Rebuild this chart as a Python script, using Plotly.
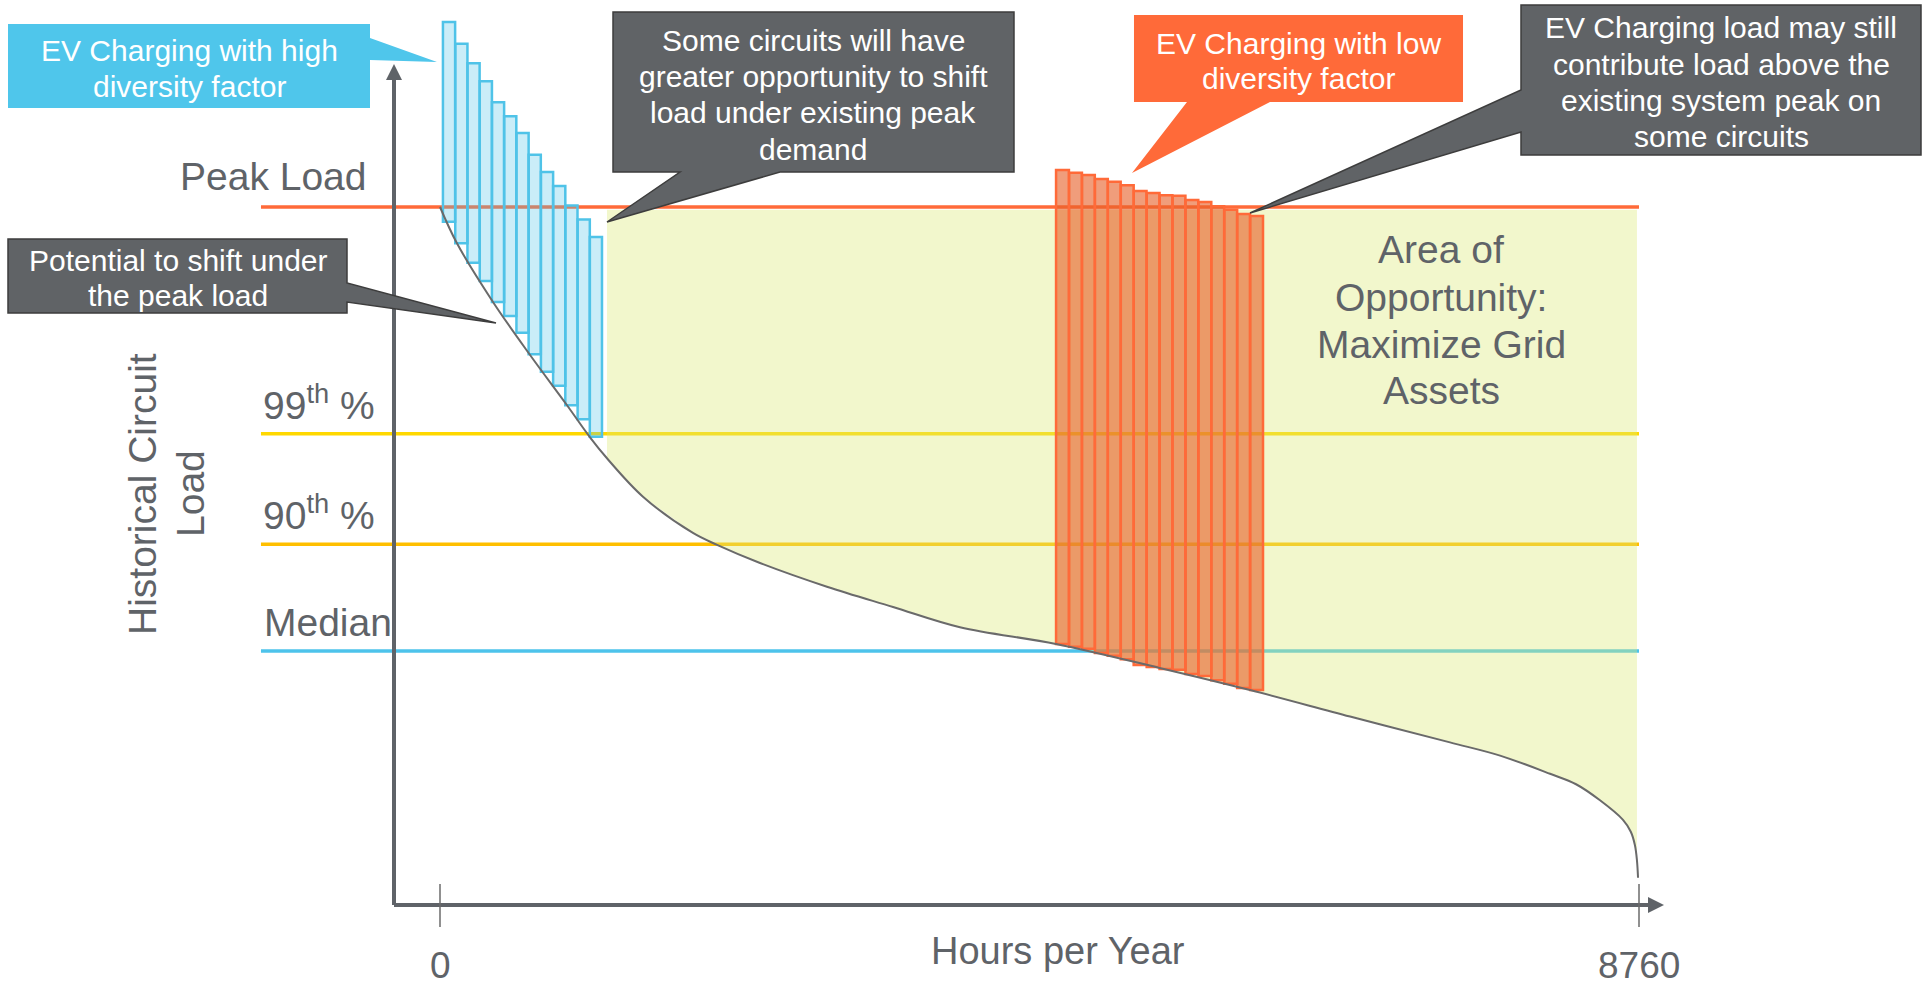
import plotly.graph_objects as go

# ---------------- data ----------------
# Load duration curve (hours of the year sorted by load, load as % of peak)
curve_hours = [0, 124, 387, 658, 928, 1096, 1220, 1483, 1848, 2024, 2338, 2827, 3310,
               3799, 4500, 5250, 5918, 6649, 7379, 7745, 8110, 8300, 8475, 8643,
               8700, 8730, 8745, 8753]
curve_load = [100.0, 94.8, 86.4, 78.8, 71.6, 67.0, 64.0, 58.5, 53.3, 51.6, 49.0, 45.6, 42.7,
              39.8, 37.4, 34.0, 30.8, 27.0, 23.3, 21.4, 18.8, 17.3, 15.0, 12.2,
              10.5, 8.6, 6.4, 3.9]

# Reference load levels
level_labels = ["Peak Load", "99<sup>th</sup> %", "90<sup>th</sup> %", "Median"]
level_values = [100.0, 67.5, 51.7, 36.4]

# EV charging with high diversity factor (stacked on the highest-load hours)
blue_hours = [66, 156, 245, 335, 424, 513, 603, 692, 782, 871, 960, 1050, 1139]
blue_base = [97.9, 94.8, 92.0, 89.4, 86.4, 84.4, 82.0, 78.9, 76.4, 74.4, 71.6, 69.6, 67.1]
blue_ev = [28.6, 28.6, 28.6, 28.6, 28.6, 28.6, 28.6, 28.6, 28.6, 28.6, 28.6, 28.6, 28.6]

# EV charging with low diversity factor (stacked on mid-year hours)
orange_hours = [4548, 4643, 4737, 4832, 4926, 5021, 5115, 5210, 5304, 5399, 5493,
                5588, 5682, 5777, 5871, 5966]
orange_base = [37.4, 37.0, 36.7, 36.1, 35.7, 35.2, 34.4, 34.1, 33.8, 33.7, 33.1,
               32.8, 32.2, 31.7, 31.1, 30.8]
orange_ev = [67.9, 67.9, 67.9, 67.9, 67.9, 67.9, 67.9, 67.9, 67.9, 67.9, 67.9,
             67.9, 67.9, 67.9, 67.9, 67.9]

x_ticks = [0, 8760]

# ---------------- geometry / style ----------------
W, H = 1928, 985
X0_PX, Y0_PX = 440, 905            # pixel position of (0 h, 0 load)
KX = 1199 / 8760                   # pixels per hour
KY = 6.98                          # pixels per load unit
FONT = "Liberation Sans, Arial, sans-serif"
GRAY_TXT = "#5f6368"
AXIS_GRAY = "#5f6368"
BOX_GRAY = "#606366"

level_colors = ["#ff6a39", "#ffd800", "#ffbf00", "#4dc3eb"]
LEVEL_LINE_START_H = -1308
OPP_START_H, OPP_END_H = 1220, 8745


def pp(x, y):
    """pixel -> paper coordinates"""
    return x / W, 1 - y / H


def poly(points):
    s = []
    for i, (x, y) in enumerate(points):
        px_, py_ = pp(x, y)
        s.append(("M" if i == 0 else "L") + f"{px_:.5f},{py_:.5f}")
    return " ".join(s) + " Z"


fig = go.Figure()

shapes = []
annotations = []

# reference level lines (under the translucent areas)
for v, c in zip(level_values, level_colors):
    shapes.append(dict(type="line", xref="x", yref="y", x0=LEVEL_LINE_START_H, x1=x_ticks[1],
                       y0=v, y1=v, line=dict(color=c, width=3.5), layer="below"))

# area of opportunity: between peak level and the load curve
top = level_values[0] - 0.4
seg = [(h, l) for h, l in zip(curve_hours, curve_load) if OPP_START_H <= h <= OPP_END_H]
path = f"M{OPP_START_H},{top} L{OPP_END_H},{top} "
path += " ".join(f"L{h},{l}" for h, l in reversed(seg)) + " Z"
shapes.append(dict(type="path", xref="x", yref="y", path=path,
                   fillcolor="rgba(222,234,120,0.38)", line=dict(width=0), layer="below"))

# EV charging bars
fig.add_trace(go.Bar(x=orange_hours, y=orange_ev, base=orange_base, width=94,
                     marker=dict(color="rgba(230,97,42,0.62)",
                                 line=dict(color="#ff6a39", width=2.5)),
                     hoverinfo="skip"))
fig.add_trace(go.Bar(x=blue_hours, y=blue_ev, base=blue_base, width=89,
                     marker=dict(color="rgba(79,195,232,0.3)",
                                 line=dict(color="#4fc3e8", width=2.5)),
                     hoverinfo="skip"))

# load duration curve
fig.add_trace(go.Scatter(x=curve_hours, y=curve_load, mode="lines",
                         line=dict(color="#6a6a6a", width=2, shape="spline", smoothing=1.0),
                         hoverinfo="skip"))

# axes drawn as arrows
ax_x = (394 - X0_PX) / KX
shapes.append(dict(type="line", xref="x", yref="y", x0=ax_x, x1=ax_x, y0=0,
                   y1=(Y0_PX - 76) / KY, line=dict(color=AXIS_GRAY, width=4)))
shapes.append(dict(type="line", xref="x", yref="y", x0=ax_x, x1=(1652 - X0_PX) / KX,
                   y0=0, y1=0, line=dict(color=AXIS_GRAY, width=4)))
shapes.append(dict(type="path", xref="paper", yref="paper",
                   path=poly([(394, 64), (402, 80), (386, 80)]),
                   fillcolor=AXIS_GRAY, line=dict(width=0)))
shapes.append(dict(type="path", xref="paper", yref="paper",
                   path=poly([(1664, 905), (1648, 897), (1648, 913)]),
                   fillcolor=AXIS_GRAY, line=dict(width=0)))

# ticks and tick labels
for t in x_ticks:
    shapes.append(dict(type="line", xref="x", yref="paper", x0=t, x1=t,
                       y0=pp(0, 927)[1], y1=pp(0, 884)[1],
                       line=dict(color="#6b6b6b", width=1.5)))
    annotations.append(dict(xref="x", yref="paper", x=t, y=pp(0, 965)[1], text=str(t),
                            showarrow=False, xanchor="center", yanchor="middle",
                            font=dict(family=FONT, size=37, color=GRAY_TXT)))

# level labels
label_pos = [(369, 176, "right"), (261, 402, "left"), (261, 512, "left"), (262, 622, "left")]
for txt, (x, y, anc) in zip(level_labels, label_pos):
    px_, py_ = pp(x, y)
    annotations.append(dict(xref="paper", yref="paper", x=px_, y=py_, text=txt,
                            showarrow=False, xanchor=anc, yanchor="middle",
                            font=dict(family=FONT, size=39, color=GRAY_TXT)))


def add_lines(lines, cx, y_first, spacing, size, color, angle=0, dx=0):
    for i, ln in enumerate(lines):
        if angle:
            x, y = cx + i * dx, y_first
        else:
            x, y = cx, y_first + i * spacing
        px_, py_ = pp(x, y)
        annotations.append(dict(xref="paper", yref="paper", x=px_, y=py_, text=ln,
                                showarrow=False, xanchor="center", yanchor="middle",
                                textangle=angle,
                                font=dict(family=FONT, size=size, color=color)))


# axis titles
add_lines(["Historical Circuit", "Load"], 142, 494, 0, 39, GRAY_TXT, angle=-90, dx=48)
add_lines(["Hours per Year"], 1058, 951, 0, 38, GRAY_TXT)

# area label
add_lines(["Area of", "Opportunity:", "Maximize Grid", "Assets"], 1441, 250, 47, 39, GRAY_TXT)

# callouts
callouts = [
    dict(pts=[(8, 24), (370, 24), (370, 38), (437, 62), (370, 60), (370, 108), (8, 108)],
         fill="#4fc6eb", border=None,
         lines=["EV Charging with high", "diversity factor"], cx=189, y0=50, sp=37),
    dict(pts=[(8, 239), (347, 239), (347, 283), (496, 323), (347, 302), (347, 313), (8, 313)],
         fill=BOX_GRAY, border="#3d3d3d",
         lines=["Potential to shift under", "the peak load"], cx=178, y0=260, sp=36),
    dict(pts=[(613, 12), (1014, 12), (1014, 172), (780, 172), (607, 222), (680, 172), (613, 172)],
         fill=BOX_GRAY, border="#3d3d3d",
         lines=["Some circuits will have", "greater opportunity to shift",
                "load under existing peak", "demand"], cx=813, y0=40, sp=36.5),
    dict(pts=[(1134, 15), (1463, 15), (1463, 102), (1270, 102), (1132, 173), (1187, 102), (1134, 102)],
         fill="#ff6a39", border=None,
         lines=["EV Charging with low", "diversity factor"], cx=1298, y0=43, sp=36),
    dict(pts=[(1521, 5), (1921, 5), (1921, 155), (1521, 155), (1521, 132), (1250, 213), (1521, 90)],
         fill=BOX_GRAY, border="#3d3d3d",
         lines=["EV Charging load may still", "contribute load above the",
                "existing system peak on", "some circuits"], cx=1721, y0=28, sp=36.3),
]
for c in callouts:
    shapes.append(dict(type="path", xref="paper", yref="paper", path=poly(c["pts"]),
                       fillcolor=c["fill"],
                       line=dict(color=c["border"] or c["fill"], width=1.5 if c["border"] else 0)))
    add_lines(c["lines"], c["cx"], c["y0"], c["sp"], 30, "white")

fig.update_layout(
    width=W, height=H,
    margin=dict(l=0, r=0, t=0, b=0, pad=0),
    paper_bgcolor="white", plot_bgcolor="white",
    showlegend=False, barmode="overlay",
    xaxis=dict(visible=False, range=[-X0_PX / KX, (W - X0_PX) / KX], fixedrange=True),
    yaxis=dict(visible=False, range=[(Y0_PX - H) / KY, Y0_PX / KY], fixedrange=True),
    shapes=shapes, annotations=annotations,
)

fig.write_html("out.html")
